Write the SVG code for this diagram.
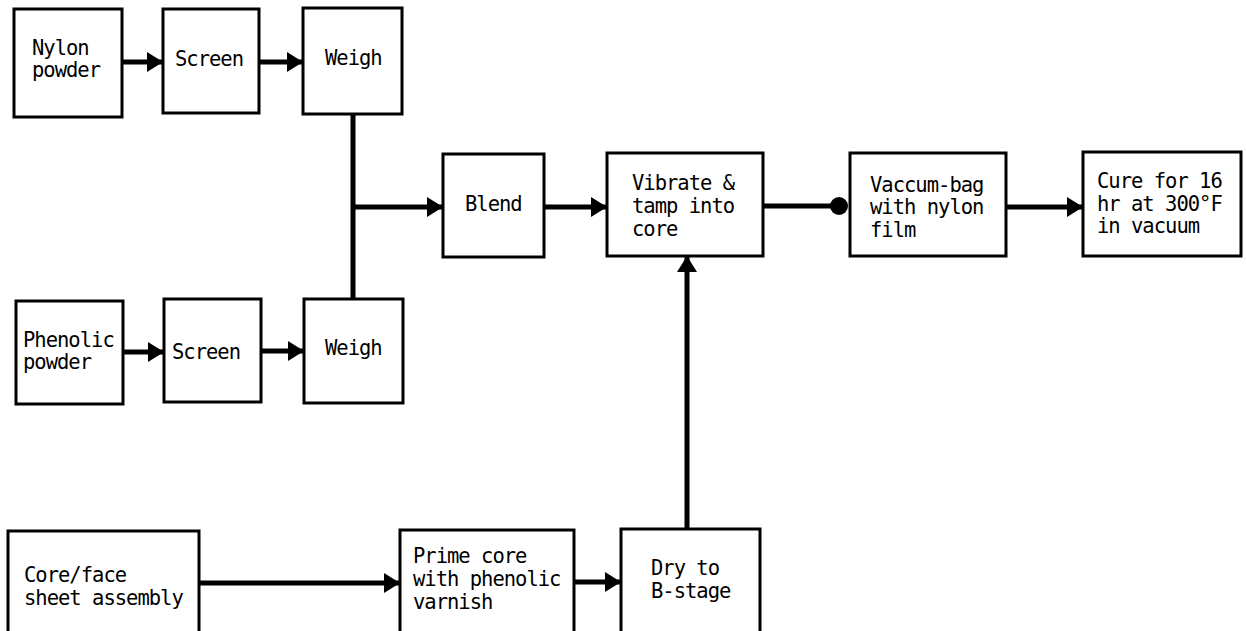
<svg xmlns="http://www.w3.org/2000/svg" width="1246" height="631" viewBox="0 0 1246 631">
<style>
.box{fill:#fff;stroke:#000;stroke-width:3}
.t{font-family:"DejaVu Sans Mono","Liberation Mono",monospace;font-size:20.5px;letter-spacing:-1px;fill:#000}
.c{fill:none;stroke:#000;stroke-width:5}
.a{marker-end:url(#ah)}
</style>
<defs>
<marker id="ah" markerUnits="userSpaceOnUse" markerWidth="17" markerHeight="20" refX="16" refY="10" orient="auto" viewBox="0 0 17 20">
<path d="M0,0 L16,10 L0,20 z" fill="#000"/>
</marker>
</defs>
<rect width="1246" height="631" fill="#fff"/>
<g id="connectors">
<path class="c a" d="M122,62 H163"/>
<path class="c a" d="M259,62 H303"/>
<path class="c a" d="M123,352 H164"/>
<path class="c a" d="M261,351 H304"/>
<path class="c" d="M353,114 V299"/>
<path class="c a" d="M353,207 H443"/>
<path class="c a" d="M544,207 H607"/>
<path class="c" d="M763,206 H835"/>
<circle cx="839" cy="206" r="9" fill="#000"/>
<path class="c a" d="M1006,207 H1083"/>
<path class="c a" d="M199,583 H400"/>
<path class="c a" d="M574,582 H621"/>
<path class="c a" d="M687,529 V256"/>
</g>
<g id="nylon"><rect class="box" x="14" y="9" width="108" height="108"/><text class="t" x="32" y="55">Nylon</text><text class="t" x="32" y="77">powder</text></g>
<g id="screen1"><rect class="box" x="163" y="9" width="96" height="104"/><text class="t" x="175" y="66">Screen</text></g>
<g id="weigh1"><rect class="box" x="303" y="8" width="99" height="106"/><text class="t" x="325" y="65">Weigh</text></g>
<g id="phenolic"><rect class="box" x="16" y="301" width="107" height="103"/><text class="t" x="23" y="347">Phenolic</text><text class="t" x="23" y="369">powder</text></g>
<g id="screen2"><rect class="box" x="164" y="299" width="97" height="103"/><text class="t" x="172" y="359">Screen</text></g>
<g id="weigh2"><rect class="box" x="304" y="299" width="99" height="104"/><text class="t" x="325" y="355">Weigh</text></g>
<g id="blend"><rect class="box" x="443" y="154" width="101" height="103"/><text class="t" x="465" y="211">Blend</text></g>
<g id="vibrate"><rect class="box" x="607" y="153" width="156" height="103"/><text class="t" x="632" y="190">Vibrate &amp;</text><text class="t" x="632" y="213">tamp into</text><text class="t" x="632" y="236">core</text></g>
<g id="vaccum"><rect class="box" x="850" y="153" width="156" height="103"/><text class="t" x="870" y="192">Vaccum-bag</text><text class="t" x="870" y="214">with nylon</text><text class="t" x="870" y="237">film</text></g>
<g id="cure"><rect class="box" x="1083" y="152" width="158" height="104"/><text class="t" x="1097" y="188">Cure for 16</text><text class="t" x="1097" y="211">hr at 300°F</text><text class="t" x="1097" y="233">in vacuum</text></g>
<g id="coreface"><rect class="box" x="8" y="531" width="191" height="110"/><text class="t" x="24" y="582">Core/face</text><text class="t" x="24" y="605">sheet assembly</text></g>
<g id="prime"><rect class="box" x="400" y="530" width="174" height="110"/><text class="t" x="413" y="563">Prime core</text><text class="t" x="413" y="586">with phenolic</text><text class="t" x="413" y="609">varnish</text></g>
<g id="dry"><rect class="box" x="621" y="529" width="139" height="111"/><text class="t" x="651" y="575">Dry to</text><text class="t" x="651" y="598">B-stage</text></g>
</svg>
